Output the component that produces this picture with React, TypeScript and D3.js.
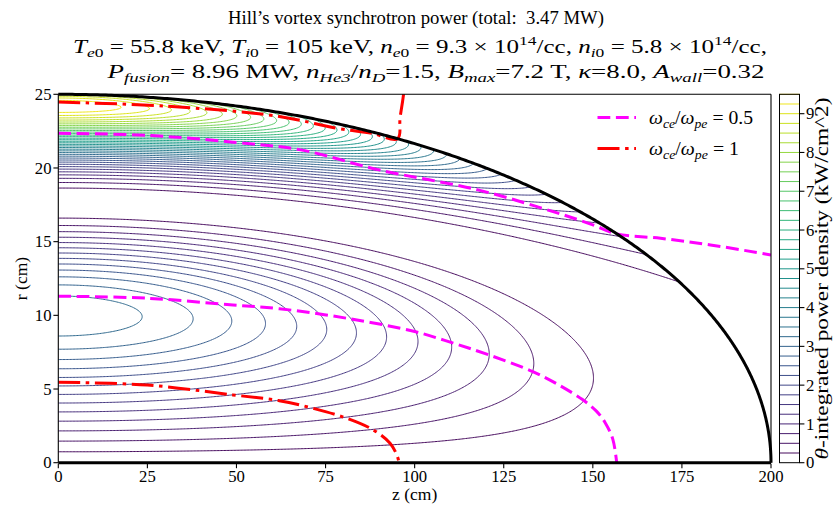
import React, { useMemo } from "react";
import * as d3 from "d3";

const WIDTH = 833;
const HEIGHT = 508;
const FONT = '"Liberation Serif", "Times New Roman", Times, "DejaVu Serif", serif';
const FS = 16.7;

// ---- axis / tick data ----
const zTicks = [0, 25, 50, 75, 100, 125, 150, 175, 200];
const rTicks = [0, 5, 10, 15, 20, 25];
const cbTicks = [0, 1, 2, 3, 4, 5, 6, 7, 8, 9];
const contourLevels = [
  0.25, 0.5, 0.75, 1, 1.25, 1.5, 1.75, 2, 2.25, 2.5, 2.75, 3, 3.25, 3.5, 3.75, 4,
  4.25, 4.5, 4.75, 5, 5.25, 5.5, 5.75, 6, 6.25, 6.5, 6.75, 7, 7.25, 7.5, 7.75, 8,
  8.25, 8.5, 8.75, 9, 9.25, 9.5,
];
const cbMax = 9.5;

// ---- Hill's vortex model parameters ----
const sepHalfLength = 200; // cm, separatrix half-length
const sepRadius = 25; // cm, separatrix radius
const densityPeaking = 2.23; // n(O-point)/n(separatrix) - 1
const powerScale = 0.084; // kW/cm^2 per model unit

// ---- omega_ce / omega_pe curves (z, r) in cm ----
const halfInner: [number, number][] = [
  [0, 11.3], [25, 11.16], [49, 10.7], [62, 10.45], [81, 9.8], [100, 8.9],
  [111, 8.1], [121, 7.3], [133, 6.2], [141, 5.2], [147, 4.3], [151, 3.5],
  [153.5, 2.7], [155.6, 1.6], [156.7, 0],
];
const halfOuter: [number, number][] = [
  [0, 22.36], [26, 22.2], [49, 21.75], [68, 21.23], [90, 19.87], [118, 18.5],
  [140, 16.95], [150, 16.14], [156.7, 15.53], [169, 15.23], [183, 14.78], [200, 14.1],
];
const oneInner: [number, number][] = [
  [0, 5.46], [25, 5.27], [49, 4.6], [62, 4.21], [71.5, 3.69], [81, 3.01],
  [88.4, 2.22], [93.1, 1.32], [95.2, 0.4], [95.6, 0],
];
const oneOuter: [number, number][] = [
  [0, 24.47], [30, 24.2], [62, 23.5], [78, 22.7], [88, 22.35], [95.2, 21.98],
  [95.9, 23.4], [96.6, 24.5], [97, 25.2],
];

// ---- layout ----
const x = d3.scaleLinear().domain([0, 200]).range([58.3, 771]);
const y = d3.scaleLinear().domain([0, 25]).range([462.7, 94.3]);
const cbX0 = 779.5;
const cbX1 = 799.5;
const yc = d3.scaleLinear().domain([0, cbMax]).range([462.7, 94.3]);

type Seg = { t: string; i?: boolean; s?: "sub" | "sup" };

function MathText(props: {
  x: number; y: number; segs: Seg[]; size: number; anchor?: string;
  textLength?: number; transform?: string;
}) {
  const { segs, size } = props;
  let cur = 0;
  const spans = segs.map((sg, k) => {
    const target = sg.s === "sub" ? 0.24 * size : sg.s === "sup" ? -0.42 * size : 0;
    const dy = target - cur;
    cur = target;
    return (
      <tspan
        key={k}
        dy={dy !== 0 ? dy : undefined}
        style={{ fontStyle: sg.i ? "italic" : "normal", fontSize: (sg.s ? size * 0.7 : size) + "px" }}
      >
        {sg.t}
      </tspan>
    );
  });
  return (
    <text
      x={props.x}
      y={props.y}
      textAnchor={props.anchor || "start"}
      textLength={props.textLength}
      lengthAdjust={props.textLength ? "spacingAndGlyphs" : undefined}
      transform={props.transform}
      fill="#000"
      style={{ whiteSpace: "pre", fontFamily: FONT, fontSize: size + "px" }}
    >
      {spans}
    </text>
  );
}

const title1: Seg[] = [{ t: "Hill\u2019s vortex synchrotron power (total:  3.47 MW)" }];
const title2: Seg[] = [
  { t: "T", i: true }, { t: "e", i: true, s: "sub" }, { t: "0", s: "sub" }, { t: " = 55.8 keV, " },
  { t: "T", i: true }, { t: "i", i: true, s: "sub" }, { t: "0", s: "sub" }, { t: " = 105 keV, " },
  { t: "n", i: true }, { t: "e", i: true, s: "sub" }, { t: "0", s: "sub" }, { t: " = 9.3 \u00d7 10" },
  { t: "14", s: "sup" }, { t: "/cc, " },
  { t: "n", i: true }, { t: "i", i: true, s: "sub" }, { t: "0", s: "sub" }, { t: " = 5.8 \u00d7 10" },
  { t: "14", s: "sup" }, { t: "/cc," },
];
const title3: Seg[] = [
  { t: "P", i: true }, { t: "fusion", i: true, s: "sub" }, { t: "= 8.96 MW, " },
  { t: "n", i: true }, { t: "He3", i: true, s: "sub" }, { t: "/" }, { t: "n", i: true },
  { t: "D", i: true, s: "sub" }, { t: "=1.5, " },
  { t: "B", i: true }, { t: "max", i: true, s: "sub" }, { t: "=7.2 T, " },
  { t: "\u03ba", i: true }, { t: "=8.0, " },
  { t: "A", i: true }, { t: "wall", i: true, s: "sub" }, { t: "=0.32" },
];
const leg1: Seg[] = [
  { t: "\u03c9", i: true }, { t: "ce", i: true, s: "sub" }, { t: "/" }, { t: "\u03c9", i: true },
  { t: "pe", i: true, s: "sub" }, { t: " = 0.5" },
];
const leg2: Seg[] = [
  { t: "\u03c9", i: true }, { t: "ce", i: true, s: "sub" }, { t: "/" }, { t: "\u03c9", i: true },
  { t: "pe", i: true, s: "sub" }, { t: " = 1" },
];
const cbLabel: Seg[] = [{ t: "\u03b8", i: true }, { t: "-integrated power density (kW/cm^2)" }];

const txtStyle = { fontFamily: FONT, fontSize: FS + "px" };

export default function App() {
  const contourPaths = useMemo(() => {
    const Z0 = -6, Z1 = 206, DZ = 0.4;
    const R0 = -1, R1 = 26.5, DR = 0.06;
    const nx = Math.round((Z1 - Z0) / DZ) + 1;
    const ny = Math.round((R1 - R0) / DR) + 1;
    const values = new Array(nx * ny);
    const a = sepHalfLength, b = sepRadius;
    for (let j = 0; j < ny; j++) {
      const r = R0 + j * DR;
      const u = r / b;
      for (let i = 0; i < nx; i++) {
        const z = Z0 + i * DZ;
        const w = z / a;
        const psi = 4 * u * u * (1 - u * u - w * w);
        const bz = 2 - 4 * u * u - 2 * w * w;
        const br = (2 * u * w * b) / a;
        const n = 1 + densityPeaking * psi;
        values[j * nx + i] = powerScale * r * n * (bz * bz + br * br);
      }
    }
    const cs = d3.contours().size([nx, ny]).thresholds(contourLevels)(values);
    return cs.map((c) => {
      let d = "";
      for (const poly of c.coordinates) {
        for (const ring of poly) {
          ring.forEach((p, k) => {
            const zz = Z0 + (p[0] - 0.5) * DZ;
            const rr = R0 + (p[1] - 0.5) * DR;
            d += (k === 0 ? "M" : "L") + x(zz).toFixed(2) + "," + y(rr).toFixed(2);
          });
        }
      }
      return { level: c.value, d };
    });
  }, []);

  const sepPts: [number, number][] = d3.range(0, 1.0001, 0.0025).map((t) => [
    sepHalfLength * Math.sin((t * Math.PI) / 2),
    sepRadius * Math.cos((t * Math.PI) / 2),
  ]);
  const lin = d3.line<[number, number]>().x((p) => x(p[0])).y((p) => y(p[1]));
  const smooth = d3
    .line<[number, number]>()
    .x((p) => x(p[0]))
    .y((p) => y(p[1]))
    .curve(d3.curveCatmullRom.alpha(0.5));
  const sepPath = lin(sepPts) as string;
  const clipD = `M${x(0)},${y(0)}L` + sepPts.map((p) => `${x(p[0])},${y(p[1])}`).join("L") + "Z";

  const color = (v: number) => d3.interpolateViridis(v / cbMax);
  const PINK = "#ff00ff";
  const RED = "#ff0000";
  const pinkDash = "12.8,5.6";
  const redDash = "22,5.6,3.5,5.6";

  return (
    <svg width={WIDTH} height={HEIGHT} style={{ display: "block", position: "absolute", left: 0, top: 0 }}>
      <defs>
        <clipPath id="sep">
          <path d={clipD} />
        </clipPath>
        <clipPath id="plot">
          <rect x={x(0)} y={y(25)} width={x(200) - x(0)} height={y(0) - y(25)} />
        </clipPath>
      </defs>
      <rect width={WIDTH} height={HEIGHT} fill="#fff" />

      {/* contours */}
      <g clipPath="url(#sep)" fill="none" strokeWidth={1}>
        {contourPaths.map((c) => (
          <path key={c.level} d={c.d} stroke={color(c.level)} />
        ))}
      </g>

      {/* omega lines */}
      <g clipPath="url(#plot)" fill="none" strokeWidth={3}>
        <path d={smooth(halfInner) as string} stroke={PINK} strokeDasharray={pinkDash} />
        <path d={smooth(halfOuter) as string} stroke={PINK} strokeDasharray={pinkDash} />
        <path d={smooth(oneInner) as string} stroke={RED} strokeDasharray={redDash} />
        <path d={smooth(oneOuter) as string} stroke={RED} strokeDasharray={redDash} />
      </g>

      {/* separatrix */}
      <path d={sepPath} fill="none" stroke="#000" strokeWidth={3} />

      {/* spines */}
      <g stroke="#000" strokeWidth={1.1} fill="none">
        <line x1={x(0)} x2={x(0)} y1={y(0)} y2={y(25)} />
        <line x1={x(0)} x2={x(200)} y1={y(25)} y2={y(25)} />
        <line x1={x(200)} x2={x(200)} y1={y(0)} y2={y(25)} />
      </g>
      <line x1={x(0)} x2={x(200)} y1={y(0)} y2={y(0)} stroke="#000" strokeWidth={3} />

      {/* x ticks */}
      {zTicks.map((t) => (
        <g key={"zt" + t}>
          <line x1={x(t)} x2={x(t)} y1={y(0) + 1} y2={y(0) + 5.5} stroke="#000" strokeWidth={1.1} />
          <text x={x(t)} y={481.5} textAnchor="middle" style={txtStyle}>
            {t}
          </text>
        </g>
      ))}
      {/* y ticks */}
      {rTicks.map((t) => (
        <g key={"rt" + t}>
          <line x1={x(0) - 4.9} x2={x(0)} y1={y(t)} y2={y(t)} stroke="#000" strokeWidth={1.1} />
          <text x={51.5} y={y(t) + 5.6} textAnchor="end" style={txtStyle}>
            {t}
          </text>
        </g>
      ))}
      <text x={x(100)} y={500} textAnchor="middle" style={{ fontFamily: FONT, fontSize: "17.5px" }}>
        z (cm)
      </text>
      <text
        transform={`translate(27,${(y(0) + y(25)) / 2}) rotate(-90)`}
        textAnchor="middle"
        style={{ fontFamily: FONT, fontSize: "17.5px" }}
      >
        r (cm)
      </text>

      {/* legend */}
      <line x1={597.5} x2={636} y1={117.5} y2={117.5} stroke={PINK} strokeWidth={3} strokeDasharray={pinkDash} />
      <line x1={597.5} x2={636} y1={148.5} y2={148.5} stroke={RED} strokeWidth={3} strokeDasharray={redDash} />
      <MathText x={649} y={123.5} segs={leg1} size={18} textLength={104} />
      <MathText x={649} y={154.5} segs={leg2} size={18} textLength={90} />

      {/* colorbar */}
      <g>
        {contourLevels.map((l) => (
          <line key={"cb" + l} x1={cbX0} x2={cbX1} y1={yc(l)} y2={yc(l)} stroke={color(l)} strokeWidth={1} />
        ))}
        <rect x={cbX0} y={yc(cbMax)} width={cbX1 - cbX0} height={yc(0) - yc(cbMax)} fill="none" stroke="#000" strokeWidth={1} />
        {cbTicks.map((t) => (
          <g key={"cbt" + t}>
            <line x1={cbX1} x2={cbX1 + 4.9} y1={yc(t)} y2={yc(t)} stroke="#000" strokeWidth={1.1} />
            <text x={806} y={yc(t) + 5.6} style={txtStyle}>
              {t}
            </text>
          </g>
        ))}
        <MathText
          x={0}
          y={0}
          segs={cbLabel}
          size={18}
          anchor="middle"
          textLength={362}
          transform={`translate(827.5,${(yc(0) + yc(cbMax)) / 2}) rotate(-90)`}
        />
      </g>

      {/* title */}
      <MathText x={416} y={24} segs={title1} size={18.5} anchor="middle" textLength={376} />
      <MathText x={420} y={53} segs={title2} size={18.5} anchor="middle" textLength={694} />
      <MathText x={436} y={78} segs={title3} size={18.5} anchor="middle" textLength={657} />
    </svg>
  );
}
